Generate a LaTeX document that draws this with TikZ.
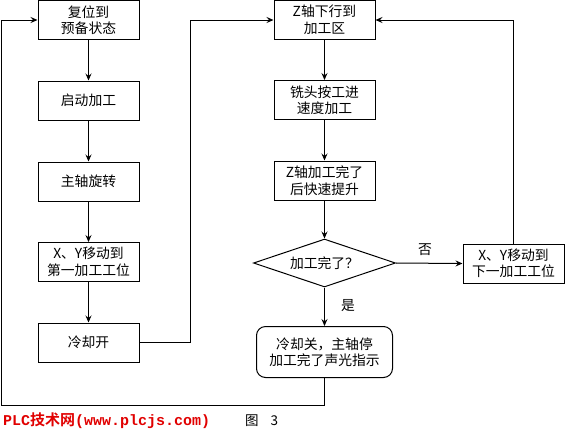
\documentclass[tikz,border=0pt]{standalone}
\usepackage{fontspec}
\setmainfont{Noto Sans CJK SC}
\newfontfamily\cjkb{Noto Sans CJK SC Bold}
\newfontfamily\monob{Liberation Mono Bold}
\usetikzlibrary{arrows.meta,shapes.geometric}
\definecolor{plcred}{RGB}{225,0,0}
\begin{document}
\begin{tikzpicture}[x=1pt,y=-1pt,
  every node/.style={font=\fontsize{13.8}{16.5}\selectfont, align=center, inner sep=0pt},
  box/.style={draw, line width=1pt, minimum width=101pt, minimum height=39pt},
  rbox/.style={draw, line width=1pt, rounded corners=9pt, minimum width=136pt, minimum height=51pt},
  dia/.style={draw, line width=1pt, diamond, aspect=2.96, minimum width=142pt, minimum height=48pt},
  conn/.style={line width=1pt, -{Stealth[length=7pt,width=6pt,inset=2.5pt]}},
  plain/.style={line width=1pt}]
\useasboundingbox (0,0) rectangle (565,432);
\fill[white] (0,0) rectangle (565,432);
% left column
\node[box] (l1) at (88.5,20) {复位到\\预备状态};
\node[box] (l2) at (88.5,100.5) {启动加工};
\node[box] (l3) at (88.5,181.5) {主轴旋转};
\node[box] (l4) at (88.5,262) {X、Y移动到\\第一加工工位};
\node[box] (l5) at (88.5,342.5) {冷却开};
% middle column
\node[box] (m1) at (324.5,20) {Z轴下行到\\加工区};
\node[box] (m2) at (324.5,100) {铣头按工进\\速度加工};
\node[box] (m3) at (324.5,180.5) {Z轴加工完了\\后快速提升};
\node[dia] (d) at (324.5,263) {加工完了？};
\node[rbox] (rb) at (324.5,352) {冷却关，主轴停\\加工完了声光指示};
% right
\node[box] (r) at (513.5,263.5) {X、Y移动到\\下一加工工位};
% labels
\node (no) at (425,250) {否};
\node (yes) at (348,306) {是};
% coordinates
\coordinate (a1) at (190,342.5);
\coordinate (a2) at (190,20);
\coordinate (b1) at (513.5,20);
\coordinate (c1) at (324.5,405);
\coordinate (c2) at (1,405);
\coordinate (c3) at (1,20);
% connectors
\draw[conn] (l1) -- (l2);
\draw[conn] (l2) -- (l3);
\draw[conn] (l3) -- (l4);
\draw[conn] (l4) -- (l5);
\draw[conn] (l5.east) -- (a1) -- (a2) -- (m1.west);
\draw[conn] (m1) -- (m2);
\draw[conn] (m2) -- (m3);
\draw[conn] (m3) -- (d.north);
\draw[conn] (d.east) -- (r.west);
\draw[conn] (d.south) -- (rb.north);
\draw[conn] (r.north) -- (b1) -- (m1.east);
\draw[conn] (rb.south) -- (c1) -- (c2) -- (c3) -- (l1.west);
% footer
\node[anchor=west, text=plcred, font=\fontsize{15}{15}\selectfont] (foot) at (3,421)
  {\monob PLC\cjkb 技术网\monob (www.plcjs.com)};
\node[anchor=west, font=\fontsize{13.5}{13.5}\selectfont] (fig) at (245,421) {图\hspace{12pt}3};
\end{tikzpicture}
\end{document}
